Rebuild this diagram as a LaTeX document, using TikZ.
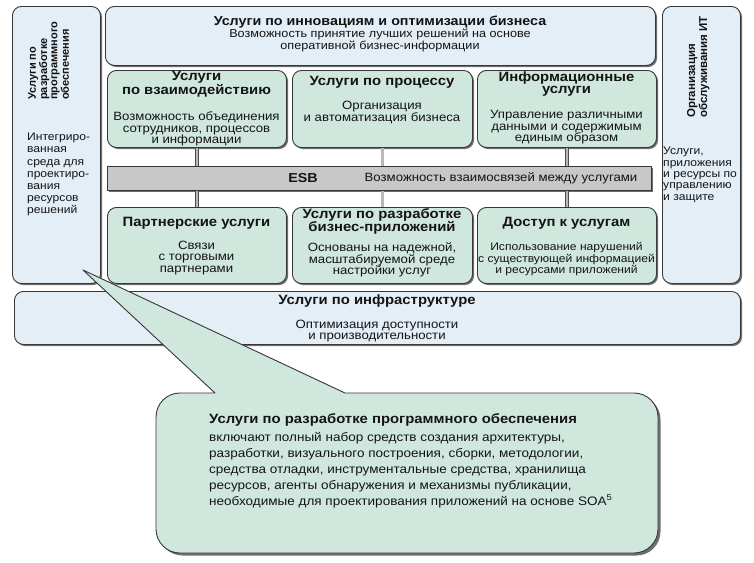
\documentclass[tikz,border=0pt]{standalone}
\usepackage{fontspec}
\setmainfont{Liberation Sans}[FakeStretch=1.1]
\newfontfamily\plainsans{Liberation Sans}
\usetikzlibrary{shadows}
\definecolor{lblue}{RGB}{228,238,246}
\definecolor{lgreen}{RGB}{208,231,222}
\definecolor{esbgray}{RGB}{200,200,200}
\definecolor{bord}{RGB}{55,55,55}
\definecolor{shad}{RGB}{110,110,110}
\definecolor{ink}{RGB}{20,20,20}
\tikzset{
  panel/.style={draw=bord, line width=0.9pt, rounded corners=9pt, inner sep=0pt, anchor=north west,
    drop shadow={shadow xshift=1.6pt, shadow yshift=-1.6pt, fill=shad, opacity=1}},
  bluepanel/.style={panel, fill=lblue},
  greenpanel/.style={panel, fill=lgreen},
  esbbar/.style={draw=bord, line width=0.9pt, fill=esbgray, inner sep=0pt, anchor=north west,
    drop shadow={shadow xshift=1.6pt, shadow yshift=-1.6pt, fill=shad, opacity=1}},
  conn/.style={draw=black!70, line width=0.7pt, double=gray!55, double distance=2.2pt},
  head/.style={text=ink, font=\fontsize{13.5}{12.5}\selectfont\bfseries, align=center, inner sep=0pt},
  body/.style={text=ink, font=\fontsize{12}{11.5}\selectfont, align=center, inner sep=0pt},
  sidehead/.style={text=ink, font=\plainsans\fontsize{11}{10.3}\selectfont\bfseries, align=left, inner sep=0pt, rotate=90, anchor=north west},
  sidebody/.style={text=ink, font=\fontsize{11}{11}\selectfont, align=left, inner sep=0pt, anchor=north west},
}
\begin{document}
\begin{tikzpicture}[x=1pt,y=-1pt]
\useasboundingbox[fill=white] (0,0) rectangle (754,562);

% side and top panels
\node[bluepanel, minimum width=88pt, minimum height=277pt] (left) at (12,6) {};
\node[bluepanel, minimum width=550pt, minimum height=59pt] (top) at (105,6) {};
\node[bluepanel, minimum width=78pt, minimum height=277pt] (right) at (662,6) {};

% middle row
\node[greenpanel, minimum width=179pt, minimum height=77pt] (m1) at (107,70) {};
\node[greenpanel, minimum width=180pt, minimum height=77pt] (m2) at (292,70) {};
\node[greenpanel, minimum width=179pt, minimum height=77pt] (m3) at (477,70) {};

% ESB
\node[esbbar, minimum width=544pt, minimum height=24pt] (esb) at (107,166) {};

% bottom row
\node[greenpanel, minimum width=179pt, minimum height=76pt] (b1) at (107,207) {};
\node[greenpanel, minimum width=180pt, minimum height=76pt] (b2) at (292,207) {};
\node[greenpanel, minimum width=179pt, minimum height=76pt] (b3) at (477,207) {};

% infrastructure
\node[bluepanel, minimum width=726pt, minimum height=53pt] (infra) at (14,291) {};

% connectors
\foreach \u/\l in {m1/b1, m2/b2, m3/b3}{
  \draw[conn] (\u.south) -- (\u.south |- esb.north);
  \draw[conn] (esb.south -| \l.north) -- (\l.north);
}

% texts: top
\node[head, font=\fontsize{13}{12.5}\selectfont\bfseries] (toptitle) at (380,22) {Услуги по инновациям и оптимизации бизнеса};
\node[body, font=\fontsize{11.5}{10.5}\selectfont] (topbody) at (380,40) {Возможность принятие лучших решений на основе\\оперативной бизнес-информации};

% left
\node[sidehead] (lefthead) at (28,100) {Услуги по\\разработке\\программного\\обеспечения};
\node[sidebody, font=\fontsize{11}{12.2}\selectfont] (leftbody) at (27,133) {Интегриро-\\ванная\\среда для\\проектиро-\\вания\\ресурсов\\решений};

% right
\node[sidehead, font=\plainsans\fontsize{11.5}{12}\selectfont\bfseries] (righthead) at (687,118) {Организация\\обслуживания ИТ};
\node[sidebody, font=\fontsize{11}{11.4}\selectfont] (rightbody) at (663,147) {Услуги,\\приложения\\и ресурсы по\\управлению\\и защите};

% middle row texts
\node[head] (m1h) at (196.5,84.5) {Услуги\\по взаимодействию};
\node[body] (m1b) at (196.5,129) {Возможность объединения\\сотрудников, процессов\\и информации};
\node[head] (m2h) at (382,82) {Услуги по процессу};
\node[body] (m2b) at (382,112.5) {Организация\\и автоматизация бизнеса};
\node[head, font=\fontsize{13.5}{12}\selectfont\bfseries] (m3h) at (566.5,84.5) {Информационные\\услуги};
\node[body] (m3b) at (566.5,127.5) {Управление различными\\данными и содержимым\\единым образом};

% ESB texts
\node[head, font=\fontsize{13}{13}\selectfont\bfseries] (esbh) at (303,178) {ESB};
\node[body] (esbb) at (501,178) {Возможность взаимосвязей между услугами};

% bottom row texts
\node[head] (b1h) at (196.5,223) {Партнерские услуги};
\node[body] (b1b) at (196.5,258) {Связи\\с торговыми\\партнерами};
\node[head, font=\fontsize{13.5}{12}\selectfont\bfseries] (b2h) at (382,221.5) {Услуги по разработке\\бизнес-приложений};
\node[body] (b2b) at (382,260) {Основаны на надежной,\\масштабируемой среде\\настройки услуг};
\node[head] (b3h) at (566.5,223) {Доступ к услугам};
\node[body, font=\fontsize{11}{11.5}\selectfont] (b3b) at (566.5,259.5) {Использование нарушений\\с существующей информацией\\и ресурсами приложений};

% infrastructure texts
\node[head] (infrah) at (377,301) {Услуги по инфраструктуре};
\node[body] (infrab) at (377,331) {Оптимизация доступности\\и производительности};

% callout
\coordinate (tip) at (83,270);
\fill[shad, rounded corners=24pt] (158.5,395.5) rectangle (660.5,555.5);
\draw[draw=bord, line width=0.9pt, fill=lgreen, line join=round]
  (215,393) -- (tip) -- (345,393) -- (634,393)
  .. controls (647.3,393) and (658,403.7) .. (658,417)
  -- (658,529) .. controls (658,542.3) and (647.3,553) .. (634,553)
  -- (180,553) .. controls (166.7,553) and (156,542.3) .. (156,529)
  -- (156,417) .. controls (156,403.7) and (166.7,393) .. (180,393) -- cycle;
\node[text=ink, font=\fontsize{13.5}{13}\selectfont\bfseries, inner sep=0pt, anchor=west] (calloutt) at (209,420)
  {Услуги по разработке программного обеспечения};
\node[text=ink, font=\fontsize{12.3}{16}\selectfont, align=left, inner sep=0pt, anchor=west] (calloutb) at (209,470)
  {включают полный набор средств создания архитектуры,\\
   разработки, визуального построения, сборки, методологии,\\
   средства отладки, инструментальные средства, хранилища\\
   ресурсов, агенты обнаружения и механизмы публикации,\\
   необходимые для проектирования приложений на основе SOA\textsuperscript{5}};
\end{tikzpicture}
\end{document}
